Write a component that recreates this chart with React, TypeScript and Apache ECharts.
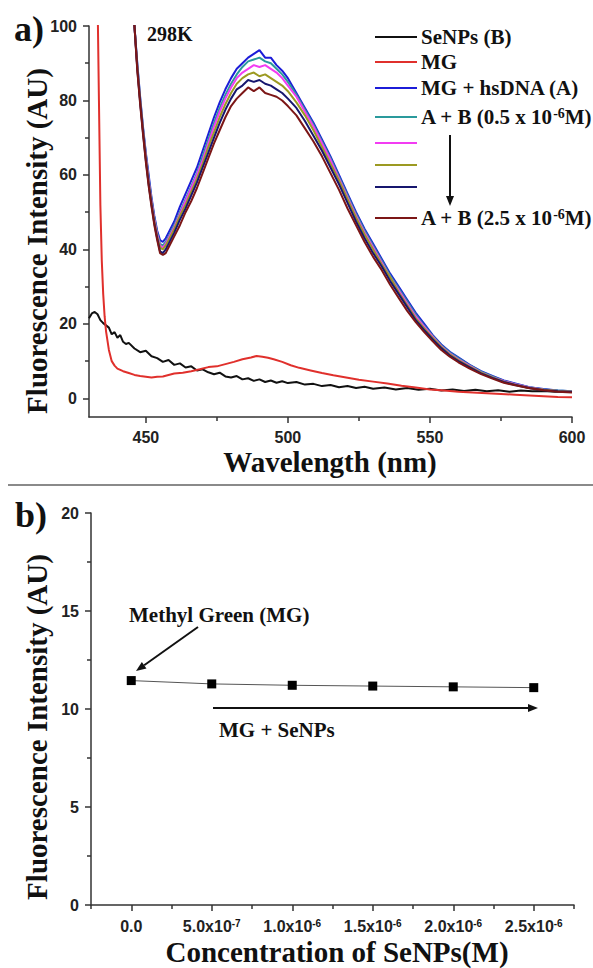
import React, { useEffect, useRef } from "react";
import * as echarts from "echarts";

// ---------- Panel a: fluorescence spectra ----------
const wlGroup = [444, 446, 447, 448, 449, 450, 451, 452, 453, 454, 455, 456, 457, 458, 460, 462, 464, 466, 468, 470, 472, 474, 476, 478, 480, 482, 484, 486, 488, 490, 492, 494, 496, 498, 500, 503, 506, 509, 512, 515, 518, 521, 524, 527, 530, 533, 536, 539, 542, 545, 548, 551, 554, 557, 560, 564, 568, 572, 576, 580, 585, 590, 595, 600];

const mgDna = [130, 100, 90, 81, 73, 66, 60, 54, 49, 45, 42.5, 42, 43, 44.5, 47.5, 51.5, 55, 58.5, 62, 66.5, 71, 75.5, 79.5, 83, 86, 88.5, 90, 91.5, 92.5, 93.5, 91.5, 91.5, 89.5, 88, 86, 82, 78, 74, 69.5, 65, 60, 55, 50, 45.5, 41.5, 37.5, 33.5, 30, 26.5, 23, 20, 17, 14.5, 12.5, 11, 9, 7.3, 6, 4.8, 4, 3, 2.5, 2.1, 1.9];
const ab05 = [130, 100, 89.5, 80.5, 72.5, 65.5, 59, 53.5, 48.5, 44.5, 41.5, 41, 42, 43.5, 46.5, 50, 53.5, 57, 60.5, 65, 69.5, 74, 78, 81.5, 84.5, 87, 89, 90.5, 91, 91.5, 90.5, 90, 88.5, 87, 85, 81.5, 77.5, 73.5, 69, 64.5, 59.5, 54.5, 49.5, 45, 41, 37, 33, 29.5, 26, 22.5, 19.5, 16.8, 14.3, 12.3, 10.8, 8.9, 7.2, 5.9, 4.7, 3.9, 3, 2.4, 2.1, 1.9];
const ab10 = [130, 100, 89, 80, 72, 65, 58.5, 53, 48, 44, 41, 40.5, 41.5, 43, 46, 49.5, 53, 56.5, 60, 64, 68.5, 73, 77, 80.5, 83.5, 86, 87.5, 88.5, 89.5, 89, 89.5, 88.5, 87.5, 86, 84, 81, 77, 73, 68.5, 64, 59, 54, 49, 44.5, 40.5, 36.5, 32.5, 29, 25.5, 22, 19.2, 16.5, 14, 12, 10.5, 8.7, 7, 5.7, 4.6, 3.8, 2.9, 2.3, 2, 1.8];
const ab15 = [130, 100, 89, 80, 72, 64.5, 58, 52.5, 47.5, 43.5, 40.5, 40, 41, 42.5, 45.5, 49, 52, 55.5, 59, 63, 67.5, 71.5, 75.5, 79, 82, 84.5, 86, 87, 87.5, 86.5, 87, 86, 85, 84, 82.5, 79.5, 76, 72, 67.5, 63, 58.5, 53.5, 48.5, 44, 40, 36, 32.5, 28.5, 25, 21.5, 18.8, 16.2, 13.8, 11.8, 10.3, 8.5, 6.9, 5.6, 4.5, 3.7, 2.8, 2.3, 2, 1.8];
const ab20 = [130, 100, 88.5, 79.5, 71.5, 64, 57.5, 52, 47, 43, 39.5, 39, 40, 41.5, 44.5, 48, 51, 54.5, 58, 62, 66, 70, 74, 77.5, 80.5, 83, 84, 85.5, 85, 85.5, 84.5, 84, 83, 82, 80.5, 78, 74.5, 70.5, 66.5, 62, 57.5, 52.5, 47.5, 43, 39, 35.5, 31.5, 28, 24.5, 21, 18.3, 15.8, 13.5, 11.5, 10, 8.3, 6.7, 5.5, 4.4, 3.6, 2.8, 2.2, 1.9, 1.7];
const ab25 = [130, 100, 88, 79, 71, 63.5, 57, 51.5, 46.5, 42.5, 39, 38.5, 39, 40.5, 43.5, 46.5, 50, 53, 56.5, 60.5, 64.5, 68.5, 72, 75.5, 78.5, 80.5, 82, 83.5, 82.5, 83.5, 82, 81.5, 81, 80, 78.5, 76, 72.5, 69, 65, 60.5, 56, 51, 46.5, 42, 38, 34.5, 30.5, 27, 23.5, 20.5, 17.8, 15.3, 13, 11.2, 9.7, 8, 6.5, 5.3, 4.2, 3.5, 2.7, 2.2, 1.8, 1.6];

const wlMG = [431, 432, 433, 433.5, 434, 434.5, 435, 435.5, 436, 437, 438, 439, 440, 442, 444, 446, 448, 450, 452, 454, 456, 458, 460, 463, 466, 469, 472, 475, 478, 481, 484, 487, 489, 491, 493, 495, 498, 501, 504, 508, 512, 516, 520, 525, 530, 535, 540, 545, 550, 555, 560, 565, 570, 575, 580, 585, 590, 595, 600];
const mgOnly = [200, 150, 108, 80, 52, 37, 28, 22, 18, 13, 10, 8.8, 8, 7.3, 6.8, 6.3, 6, 5.8, 5.6, 5.8, 5.9, 6.3, 6.7, 6.9, 7.3, 7.8, 8.4, 8.6, 9.2, 9.8, 10.5, 11, 11.4, 11.2, 10.9, 10.5, 9.8, 8.9, 8.2, 7.5, 6.8, 6.2, 5.7, 5, 4.5, 4, 3.4, 2.9, 2.4, 2.1, 1.8, 1.6, 1.4, 1.2, 1, 0.8, 0.6, 0.4, 0.3];

const wlSe = [430, 431, 432, 433, 434, 435, 436, 437, 438, 439, 440, 441, 442, 443, 444, 446, 448, 450, 452, 454, 456, 458, 460, 462, 464, 466, 468, 470, 472, 474, 476, 478, 480, 482, 484, 486, 488, 490, 492, 494, 496, 498, 500, 503, 506, 509, 512, 515, 518, 521, 524, 527, 530, 534, 538, 542, 546, 550, 554, 558, 562, 566, 570, 574, 578, 582, 586, 590, 594, 598, 600];
const seNPs = [21.5, 22.8, 23.2, 22.6, 21, 20.2, 19.6, 19, 17.2, 17.8, 16.3, 17, 15.2, 14.6, 14.9, 13.4, 12.4, 12.8, 11.3, 10.8, 9.8, 10.3, 9, 9.4, 8.3, 8.6, 7.5, 7.8, 7, 6.5, 6.9, 5.9, 5.6, 6, 5.1, 5.4, 4.7, 5.1, 4.4, 4.8, 4.2, 4.6, 4.1, 4.4, 3.7, 3.9, 3.3, 3.6, 3, 3.3, 2.8, 3.1, 2.6, 2.9, 2.4, 2.8, 2.3, 2.6, 2.1, 2.4, 2, 2.3, 1.9, 2.2, 1.8, 2.1, 1.9, 2, 1.8, 1.9, 1.8];

const aXTicks = [450, 500, 550, 600];
const aXMinor = [475, 525, 575];
const aYTicks = [0, 20, 40, 60, 80, 100];
const aYMinor = [10, 30, 50, 70, 90];

// ---------- Panel b ----------
const bConcentration = [0, 5e-7, 1e-6, 1.5e-6, 2e-6, 2.5e-6];
const bIntensity = [11.45, 11.28, 11.21, 11.17, 11.13, 11.09];
const bXTicks = [0, 5e-7, 1e-6, 1.5e-6, 2e-6, 2.5e-6];
const bXTickLabels = ["0.0", "5.0x10{sup|-7}", "1.0x10{sup|-6}", "1.5x10{sup|-6}", "2.0x10{sup|-6}", "2.5x10{sup|-6}"];
const bXMinor = [-2.5e-7, 2.5e-7, 7.5e-7, 1.25e-6, 1.75e-6, 2.25e-6, 2.75e-6];
const bYTicks = [0, 5, 10, 15, 20];
const bYMinor = [2.5, 7.5, 12.5, 17.5];

const SERIF = '"Liberation Serif", "Times New Roman", serif';
const SANS = '"Liberation Sans", Arial, sans-serif';
const AX = "#333";

const colors = {
  se: "#111111",
  mg: "#e0302c",
  dna: "#1c1cd8",
  ab05: "#2a9a9c",
  ab10: "#f23cf2",
  ab15: "#9c9a22",
  ab20: "#16166e",
  ab25: "#7c1616",
};

function pairs(xs: number[], ys: number[]) {
  return xs.map((x, i) => [x, ys[i]]);
}

function arrow(x1: number, y1: number, x2: number, y2: number, color = "#111") {
  const dx = x2 - x1;
  const dy = y2 - y1;
  const len = Math.sqrt(dx * dx + dy * dy);
  const ux = dx / len;
  const uy = dy / len;
  const hl = 10;
  const hw = 4;
  const bx = x2 - ux * hl;
  const by = y2 - uy * hl;
  return [
    { type: "line", shape: { x1, y1, x2: bx, y2: by }, style: { stroke: color, lineWidth: 2 } },
    {
      type: "polygon",
      shape: { points: [[x2, y2], [bx - uy * hw, by + ux * hw], [bx + uy * hw, by - ux * hw]] },
      style: { fill: color },
    },
  ];
}

function richText(text: string, x: number, y: number, size: number, family: string, align = "left", extra: any = {}) {
  return {
    type: "text",
    x,
    y,
    ...extra,
    style: {
      text,
      fontFamily: family,
      fontWeight: "bold",
      fontSize: size,
      fill: "#111",
      align,
      verticalAlign: "middle",
      rich: {
        sup: { fontFamily: family, fontWeight: "bold", fontSize: Math.round(size * 0.65), verticalAlign: "top", fill: "#111", lineHeight: Math.round(size * 0.65) },
      },
    },
  };
}

function serifText(text: string, x: number, y: number, size: number, align = "left", extra: any = {}) {
  return richText(text, x, y, size, SERIF, align, extra);
}

const legendRows = [
  { color: colors.se, text: "SeNPs (B)", y: 37 },
  { color: colors.mg, text: "MG", y: 62 },
  { color: colors.dna, text: "MG + hsDNA (A)", y: 88 },
  { color: colors.ab05, text: "A + B (0.5 x 10{sup|-6}M)", y: 117 },
  { color: colors.ab10, text: "", y: 143 },
  { color: colors.ab15, text: "", y: 165 },
  { color: colors.ab20, text: "", y: 187 },
  { color: colors.ab25, text: "A + B (2.5 x 10{sup|-6}M)", y: 218 },
];

function valueAxis(gridIndex: number, min: number, max: number, position: string, ticks: number[], showLine: boolean, tickLen: number, labels: any) {
  return {
    type: "value",
    gridIndex,
    min,
    max,
    position,
    splitLine: { show: false },
    axisLine: { show: showLine, onZero: false, lineStyle: { color: AX, width: 1.5 } },
    axisTick: { show: true, customValues: ticks, length: tickLen, lineStyle: { color: AX, width: 1.5 } },
    axisLabel: labels,
  };
}

const labelBase = { margin: 12, fontSize: 16, fontWeight: "bold", fontFamily: SANS, color: "#222" };

export default function App() {
  const ref = useRef<HTMLDivElement>(null);
  useEffect(() => {
    if (!ref.current) return;
    const chart = echarts.init(ref.current, undefined, { renderer: "svg" });
    const lineSeries = (name: string, xs: number[], ys: number[], color: string) => ({
      name,
      type: "line",
      xAxisIndex: 0,
      yAxisIndex: 0,
      data: pairs(xs, ys),
      showSymbol: false,
      symbol: "none",
      clip: true,
      lineStyle: { color, width: 2 },
      itemStyle: { color },
    });
    const graphics: any[] = [
      serifText("a)", 14, 29, 36),
      serifText("b)", 15, 515, 36),
      serifText("298K", 147, 34, 20),
      ...legendRows.flatMap((r) => {
        const items: any[] = [
          { type: "line", shape: { x1: 375, y1: r.y, x2: 417, y2: r.y }, style: { stroke: r.color, lineWidth: 2 } },
        ];
        if (r.text) items.push(serifText(r.text, 421, r.y, 21));
        return items;
      }),
      ...arrow(450, 135, 450, 206),
      serifText("Fluorescence Intensity (AU)", 37, 241, 29, "center", { rotation: Math.PI / 2 }),
      serifText("Wavelength (nm)", 330, 462, 29, "center"),
      { type: "line", shape: { x1: 8, y1: 485, x2: 593, y2: 485 }, style: { stroke: "#8a8a8a", lineWidth: 2 } },
      serifText("Fluorescence Intensity (AU)", 37, 727, 29, "center", { rotation: Math.PI / 2 }),
      serifText("Concentration of SeNPs(M)", 337, 952, 29, "center"),
      serifText("Methyl Green (MG)", 129, 615, 21),
      ...arrow(198, 627, 136, 671),
      ...arrow(213, 708, 538, 708),
      serifText("MG + SeNPs", 219, 730, 21),
    ];
    const option: any = {
      animation: false,
      grid: [
        { left: 89, top: 26, width: 483, height: 391 },
        { left: 91, top: 513, width: 483, height: 392 },
      ],
      xAxis: [
        valueAxis(0, 430, 600, "bottom", aXTicks, true, 6, { ...labelBase, customValues: aXTicks }),
        valueAxis(0, 430, 600, "bottom", aXMinor, false, 4, { show: false }),
        valueAxis(1, -2.5e-7, 2.75e-6, "bottom", bXTicks, true, 6, { show: false }),
        valueAxis(1, -2.5e-7, 2.75e-6, "bottom", bXMinor, false, 4, { show: false }),
      ],
      yAxis: [
        valueAxis(0, -5, 100, "left", aYTicks, true, 6, { ...labelBase, customValues: aYTicks }),
        valueAxis(0, -5, 100, "left", aYMinor, false, 4, { show: false }),
        valueAxis(1, 0, 20, "left", bYTicks, true, 6, { ...labelBase, customValues: bYTicks }),
        valueAxis(1, 0, 20, "left", bYMinor, false, 4, { show: false }),
      ],
      series: [
        lineSeries("SeNPs (B)", wlSe, seNPs, colors.se),
        lineSeries("MG", wlMG, mgOnly, colors.mg),
        lineSeries("MG + hsDNA (A)", wlGroup, mgDna, colors.dna),
        lineSeries("A + B 0.5", wlGroup, ab05, colors.ab05),
        lineSeries("A + B 1.0", wlGroup, ab10, colors.ab10),
        lineSeries("A + B 1.5", wlGroup, ab15, colors.ab15),
        lineSeries("A + B 2.0", wlGroup, ab20, colors.ab20),
        lineSeries("A + B 2.5", wlGroup, ab25, colors.ab25),
        {
          name: "MG + SeNPs",
          type: "line",
          xAxisIndex: 2,
          yAxisIndex: 2,
          data: pairs(bConcentration, bIntensity),
          symbol: "rect",
          symbolSize: 9,
          itemStyle: { color: "#000" },
          lineStyle: { color: "#555", width: 1 },
        },
      ],
      graphic: graphics,
    };
    chart.setOption(option);
    // Tick labels of panel b's x axis, placed at the axis's own tick positions
    const tickLabels = bXTicks.map((v, i) => {
      const p = chart.convertToPixel({ xAxisIndex: 2, yAxisIndex: 2 } as any, [v, 0]) as number[];
      const t: any = richText(bXTickLabels[i], p[0], p[1] + 21, 16, SANS, "center");
      t.style.fill = "#222";
      return t;
    });
    chart.setOption({ graphic: [...graphics, ...tickLabels] });
    return () => chart.dispose();
  }, []);
  return <div ref={ref} style={{ position: "absolute", left: 0, top: 0, width: 593, height: 968 }} />;
}
